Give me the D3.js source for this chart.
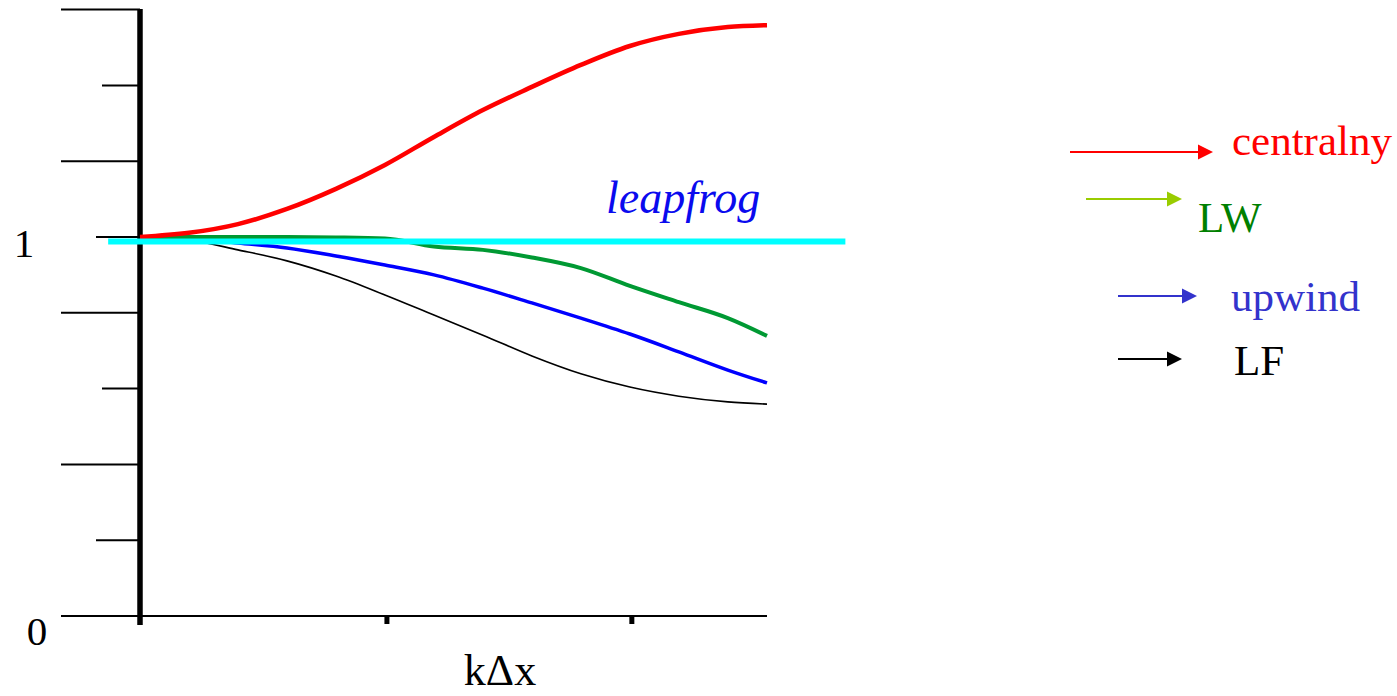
<!DOCTYPE html>
<html>
<head>
<meta charset="utf-8">
<script src="https://cdn.jsdelivr.net/npm/d3@7"></script>
<style>
  html, body { margin: 0; padding: 0; background: #fff; }
  svg { display: block; }
  text { font-family: "Liberation Serif", "Times New Roman", serif; }
</style>
</head>
<body>
<svg id="chart" width="1397" height="696"></svg>
<script>
// ---- data ----
const kdx = [0, 0.2, 0.4, 0.6, 0.8, 1.0, 1.2, 1.4, 1.6, 1.8, 2.0, 2.2, 2.4, 2.56];
const centralny = [1.000, 1.011, 1.034, 1.074, 1.127, 1.190, 1.264, 1.335, 1.396, 1.454, 1.504, 1.536, 1.554, 1.559];
const lw        = [1.000, 1.000, 1.000, 1.000, 0.999, 0.996, 0.975, 0.966, 0.946, 0.918, 0.871, 0.828, 0.786, 0.739];
const upwind    = [1.000, 0.997, 0.984, 0.971, 0.950, 0.926, 0.900, 0.865, 0.826, 0.786, 0.744, 0.697, 0.649, 0.615];
const lf        = [1.000, 0.992, 0.966, 0.937, 0.897, 0.847, 0.794, 0.741, 0.686, 0.639, 0.604, 0.580, 0.565, 0.559];
const leapfrogX = [-0.13, 2.88];
const leapfrog  = [0.988, 0.988];

const yTicksLong  = [0, 0.4, 0.8, 1.2, 1.6];
const yTicksShort = [0.2, 0.6, 1.0, 1.4];
const yTickLabels = [{v: 0, t: "0"}, {v: 1, t: "1"}];
const xTicks = [0, 1, 2];
const xLabel = "kΔx";

const legendLabels = ["centralny", "LW", "upwind", "LF"];
const legendTextColors = ["#ff0000", "#008000", "#3333cc", "#000000"];
const legendArrowColors = ["#ff0000", "#99cc00", "#3333cc", "#000000"];

// ---- layout ----
const svg = d3.select("#chart");
const x = d3.scaleLinear().domain([0, 2.56]).range([140, 767]);
const y = d3.scaleLinear().domain([0, 1.6]).range([616, 9.6]);

// x axis line
svg.append("line")
  .attr("x1", 61).attr("x2", 767).attr("y1", y(0)).attr("y2", y(0))
  .attr("stroke", "#000").attr("stroke-width", 2);

// x ticks (below axis)
svg.selectAll(".xt").data(xTicks.slice(1)).enter().append("line")
  .attr("x1", d => x(d) + 2).attr("x2", d => x(d) + 2)
  .attr("y1", y(0)).attr("y2", y(0) + 8)
  .attr("stroke", "#000").attr("stroke-width", 5);

// y ticks
svg.selectAll(".ytl").data(yTicksLong).enter().append("line")
  .attr("x1", 61).attr("x2", x(0)).attr("y1", d => y(d)).attr("y2", d => y(d))
  .attr("stroke", "#000").attr("stroke-width", 2);
svg.selectAll(".yts").data(yTicksShort).enter().append("line")
  .attr("x1", (d, i) => i % 2 === 0 ? 96 : 102).attr("x2", x(0))
  .attr("y1", d => y(d)).attr("y2", d => y(d))
  .attr("stroke", "#000").attr("stroke-width", 2);

// y axis (thick)
svg.append("line")
  .attr("x1", x(0)).attr("x2", x(0)).attr("y1", y(1.6) - 0.5).attr("y2", y(0) + 9)
  .attr("stroke", "#000").attr("stroke-width", 5.5);

// y labels
svg.selectAll(".yl").data(yTickLabels).enter().append("text")
  .attr("x", d => d.v === 0 ? 37 : 24)
  .attr("y", d => d.v === 0 ? 645 : 257)
  .attr("text-anchor", "middle")
  .attr("font-size", 41)
  .text(d => d.t);

// x label
svg.append("text")
  .attr("x", 500).attr("y", 685).attr("text-anchor", "middle")
  .attr("font-size", 44).text(xLabel);

// curves
const line = d3.line().x(d => x(d[0])).y(d => y(d[1])).curve(d3.curveMonotoneX);
const series = [
  {vals: lf, color: "#000000", w: 1.6},
  {vals: upwind, color: "#0000ff", w: 3.5},
  {vals: lw, color: "#009933", w: 4},
  {vals: centralny, color: "#ff0000", w: 4.5}
];
series.forEach(s => {
  svg.append("path")
    .datum(kdx.map((k, i) => [k, s.vals[i]]))
    .attr("d", line)
    .attr("fill", "none")
    .attr("stroke", s.color)
    .attr("stroke-width", s.w);
});

// leapfrog (cyan)
svg.append("path")
  .datum(leapfrogX.map((k, i) => [k, leapfrog[i]]))
  .attr("d", d3.line().x(d => x(d[0])).y(d => y(d[1])))
  .attr("fill", "none").attr("stroke", "#00ffff").attr("stroke-width", 6);

svg.append("text")
  .attr("x", 606).attr("y", 213)
  .attr("font-size", 46).attr("font-style", "italic")
  .attr("fill", "#0a0aee").text("leapfrog");

// legend
const legendPos = [
  {x1: 1070, x2: 1213, y: 152, tx: 1232, ty: 155},
  {x1: 1086, x2: 1182, y: 199, tx: 1198, ty: 232},
  {x1: 1118, x2: 1197, y: 296, tx: 1231, ty: 311},
  {x1: 1118, x2: 1182, y: 359, tx: 1234, ty: 375}
];
legendLabels.forEach((lab, i) => {
  const p = legendPos[i];
  const col = legendArrowColors[i];
  svg.append("line")
    .attr("x1", p.x1).attr("x2", p.x2 - 12).attr("y1", p.y).attr("y2", p.y)
    .attr("stroke", col).attr("stroke-width", 2.2);
  svg.append("path")
    .attr("d", `M${p.x2},${p.y} L${p.x2 - 15},${p.y - 7.5} L${p.x2 - 15},${p.y + 7.5} Z`)
    .attr("fill", col);
  svg.append("text")
    .attr("x", p.tx).attr("y", p.ty)
    .attr("font-size", 43)
    .attr("fill", legendTextColors[i])
    .text(lab);
});
</script>
</body>
</html>
